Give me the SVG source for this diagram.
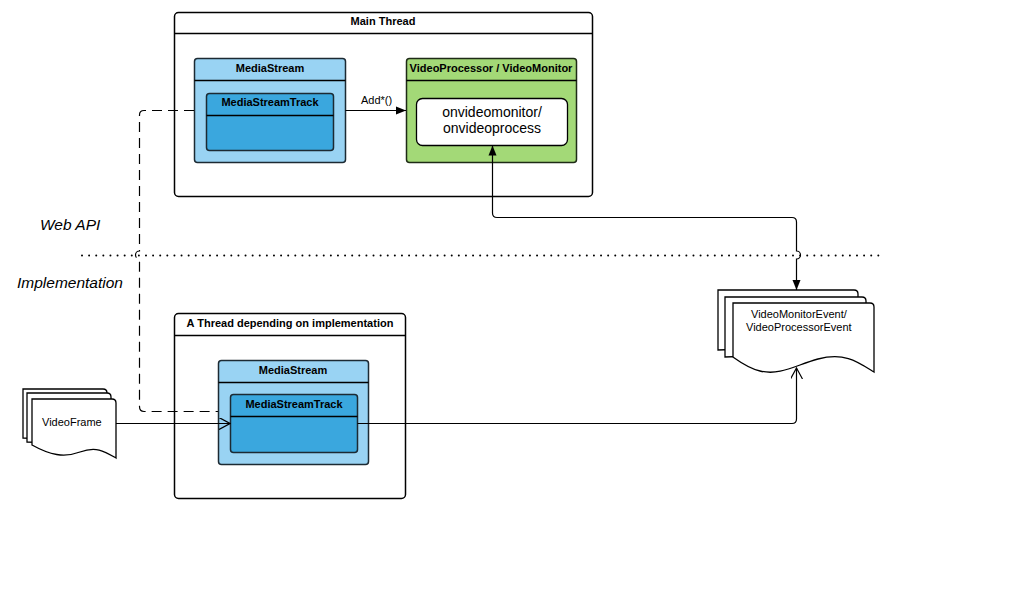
<svg xmlns="http://www.w3.org/2000/svg" width="1024" height="592" viewBox="0 0 1024 592">
<style>
.box{fill:#fff;stroke:#000;stroke-width:1.5}
.hdr{stroke:#000;stroke-width:1.5;fill:none}
.ms{fill:#99d3f3;stroke:#1c2a33;stroke-width:1.5}
.tr{fill:#3aa7de;stroke:#1c2a33;stroke-width:1.5}
.vp{fill:#a3d977;stroke:#1e2b16;stroke-width:1.5}
.wt{fill:#fff;stroke:#000;stroke-width:1.3}
.t{font-family:"Liberation Sans",Arial,sans-serif;font-weight:bold;font-size:11px;text-anchor:middle;fill:#000}
.n{font-family:"Liberation Sans",Arial,sans-serif;font-size:11px;fill:#000}
.big{font-family:"Liberation Sans",Arial,sans-serif;font-size:14px;text-anchor:middle;fill:#000}
.lbl{font-family:"Liberation Sans",Arial,sans-serif;font-style:italic;font-size:15.5px;fill:#000}
.ln{fill:none;stroke:#000;stroke-width:1.2}
.doc{fill:#fff;stroke:#000;stroke-width:1.3}
</style>
<defs>
<marker id="fa" viewBox="0 0 10 10" refX="10" refY="5" markerWidth="10" markerHeight="10" markerUnits="userSpaceOnUse" orient="auto-start-reverse"><path d="M0,1 L10,5 L0,9 Z" fill="#000"/></marker>
<marker id="oa" viewBox="0 0 12 12" refX="11" refY="6" markerWidth="12" markerHeight="12" markerUnits="userSpaceOnUse" orient="auto"><path d="M0,0 L11,6 L0,12" fill="none" stroke="#000" stroke-width="1.2"/></marker>
</defs>

<text class="lbl" x="40" y="230">Web API</text>
<text class="lbl" x="17" y="288">Implementation</text>

<g id="main-thread">
<rect class="box" x="174.5" y="12.5" width="418" height="184" rx="4"/>
<line class="hdr" x1="174.5" y1="33.5" x2="592.5" y2="33.5"/>
<text class="t" x="383" y="25">Main Thread</text>
</g>

<g id="mediastream-top">
<rect class="ms" x="194.5" y="58.5" width="151" height="104" rx="3"/>
<line class="hdr" x1="194.5" y1="80.5" x2="345.5" y2="80.5" stroke="#1c2a33"/>
<text class="t" x="270" y="72">MediaStream</text>
</g>
<g id="track-top">
<rect class="tr" x="206.5" y="93.5" width="127" height="57" rx="3"/>
<line class="hdr" x1="206.5" y1="115.5" x2="333.5" y2="115.5" stroke="#1c2a33"/>
<text class="t" x="270" y="106">MediaStreamTrack</text>
</g>

<g id="videoprocessor">
<rect class="vp" x="406.5" y="58.5" width="170" height="104" rx="3"/>
<line class="hdr" x1="406.5" y1="80.5" x2="576.5" y2="80.5" stroke="#1e2b16"/>
<text class="t" x="491" y="72">VideoProcessor / VideoMonitor</text>
</g>
<g id="onvideo">
<rect class="wt" x="416.5" y="98.5" width="151" height="47" rx="6"/>
<text class="big" x="492" y="117">onvideomonitor/</text>
<text class="big" x="492" y="133">onvideoprocess</text>
</g>

<g id="impl-thread">
<rect class="box" x="174.5" y="313.5" width="231" height="185" rx="4"/>
<line class="hdr" x1="174.5" y1="335.5" x2="405.5" y2="335.5"/>
<text class="t" x="290" y="327">A Thread depending on implementation</text>
</g>
<g id="mediastream-bottom">
<rect class="ms" x="218.5" y="360.5" width="150" height="104" rx="3"/>
<line class="hdr" x1="218.5" y1="382.5" x2="368.5" y2="382.5" stroke="#1c2a33"/>
<text class="t" x="293" y="374">MediaStream</text>
</g>
<g id="track-bottom">
<rect class="tr" x="230.5" y="394.5" width="127" height="58" rx="3"/>
<line class="hdr" x1="230.5" y1="416.5" x2="357.5" y2="416.5" stroke="#1c2a33"/>
<text class="t" x="294" y="408">MediaStreamTrack</text>
</g>

<g id="videoframe">
<path class="doc" d="M23,389 H103 Q107,389 107,393 V440 L23,438 Z"/>
<path class="doc" d="M27,393 H107 Q111,393 111,397 V444 L27,442 Z"/>
<path class="doc" d="M32,399 H112 Q116,399 116,403 V458 C104,451 96,446 80,452 C64,458 50,455 32,445 Z"/>
<text class="n" x="42" y="426">VideoFrame</text>
</g>

<g id="events">
<path class="doc" d="M718,290 H854 Q858,290 858,294 V345 L718,350 Z"/>
<path class="doc" d="M725,297 H862 Q866,297 866,301 V352 L725,357 Z"/>
<path class="doc" d="M733,303 H870 Q874,303 874,307 V372 C858,362 845,352 818,359 C796,365 780,376 760,371 C748,368 740,362 733,357 Z"/>
<text class="n" x="751" y="318">VideoMonitorEvent/</text>
<text class="n" x="746" y="331">VideoProcessorEvent</text>
</g>

<g id="connectors">
<line x1="82" y1="255.5" x2="885" y2="255.5" stroke="#000" stroke-width="2" stroke-dasharray="0.01 7.1" stroke-linecap="round"/>
<line class="ln" x1="345.5" y1="110.5" x2="406" y2="110.5" marker-end="url(#fa)"/>
<text class="n" x="361" y="104">Add*()</text>
<path class="ln" d="M492.5,145.5 V213 Q492.5,217.5 497,217.5 H792 Q796.5,217.5 796.5,222 V251 A4,4 0 0 1 796.5,259 V290" marker-start="url(#fa)" marker-end="url(#fa)"/>
<path class="ln" stroke-dasharray="10,6" d="M194,110.5 H144 Q139.5,110.5 139.5,115 V251 A4,4 0 0 0 139.5,259 V406.5 Q139.5,411.5 144,411.5 H218"/>
<line class="ln" x1="116" y1="423.5" x2="230" y2="423.5" marker-end="url(#oa)"/>
<path class="ln" d="M357.5,423.5 H792 Q796.5,423.5 796.5,419 V368" marker-end="url(#oa)"/>
</g>
</svg>
